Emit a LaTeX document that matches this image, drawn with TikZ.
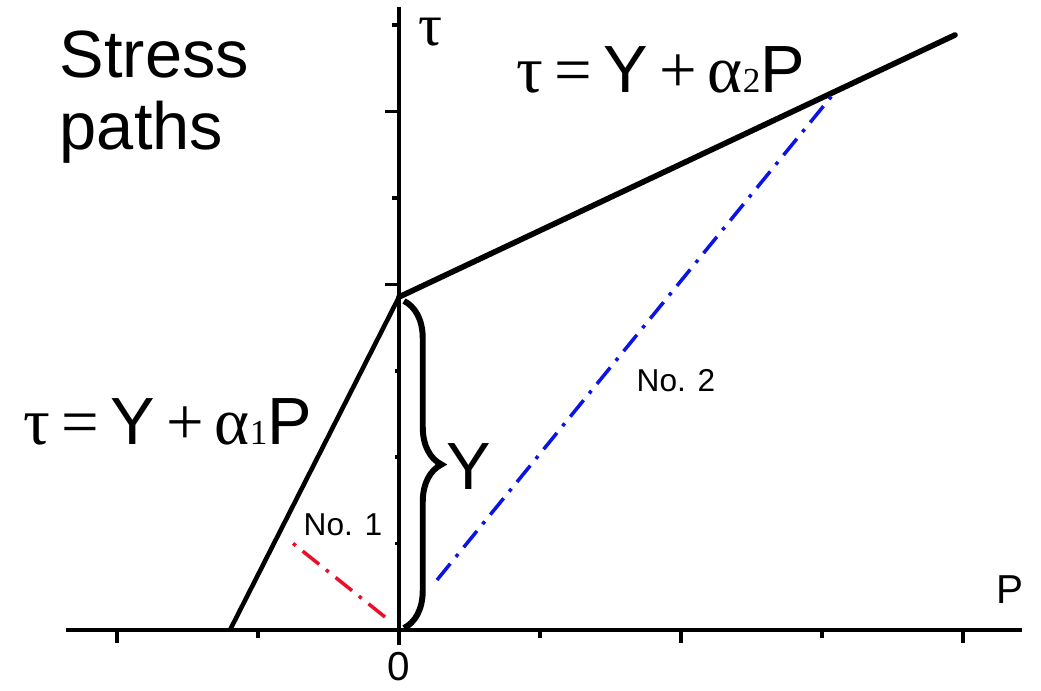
\documentclass[tikz,border=0pt]{standalone}
\usepackage{fontspec}
\setmainfont{Liberation Sans}
\newfontfamily\greekfont{Liberation Serif}
\usetikzlibrary{decorations.pathreplacing}
\definecolor{cred}{HTML}{E8102A}
\definecolor{cblue}{HTML}{0A14E6}
\tikzset{
  every picture/.style={line width=2pt},
  axis/.style={black, line width=2pt},
  yieldline/.style={black, line width=3.2pt},
  stresspath/.style={#1, line width=2pt, dash pattern=on 12pt off 5pt on 2pt off 5pt},
  bracey/.style={decorate, decoration={brace, amplitude=0.75cm}, line width=3.4pt},
  biglab/.style={font=\fontsize{38}{41}\selectfont, inner sep=0pt},
  midlab/.style={font=\fontsize{23}{25}\selectfont, inner sep=0pt},
  smalllab/.style={font=\fontsize{18}{20}\selectfont, inner sep=0pt},
}
\newcommand{\gk}[1]{{\greekfont #1}}
\newcommand{\subnum}[1]{{\greekfont\fontsize{20}{20}\selectfont #1}}

\begin{document}
\begin{tikzpicture}
  \useasboundingbox (-7.98,-1.2) rectangle (12.84,12.6);
  % axes
  \coordinate (O) at (0,0);
  \coordinate (xl) at (-6.66,0);
  \coordinate (xr) at (12.46,0);
  \coordinate (yb) at (0,-0.3);
  \coordinate (yt) at (0,12.46);
  \draw[axis] (xl) -- (xr);
  \draw[axis] (yb) -- (yt);
  \foreach \x/\l in {-5.64/0.26, -2.82/0.16, 0/0.26, 2.82/0.16, 5.64/0.26, 8.46/0.16, 11.28/0.26}
    \draw[axis] (\x,0) -- (\x,-\l);
  \foreach \k/\l in {1/0.08, 2/0.08, 3/0.08, 4/0.28, 5/0.14, 6/0.28, 7/0.14}
    \draw[axis] (0,\k*1.728) -- ++(-\l,0);
  \node[midlab] (zero) at (0,-0.74) {0};
  \node[midlab] (Plab) at (12.22,0.8) {P};
  \node[font=\greekfont\fontsize{34}{36}\selectfont, inner sep=0pt] (taulab) at (0.64,11.95) {τ};

  % yield lines
  \coordinate (Yint) at (0,6.66);
  \coordinate (Pneg) at (-3.38,0);
  \coordinate (Yend) at (11.12,11.9);
  \draw[yieldline, line width=2.6pt] (Pneg) -- (Yint);
  \draw[yieldline, line cap=round] (Yint) -- (Yend);

  % stress paths
  \coordinate (s1a) at (-0.28,0.26);
  \coordinate (s1b) at (-2.18,1.78);
  \coordinate (s2a) at (0.76,1.0);
  \coordinate (s2b) at (8.72,10.76);
  \draw[stresspath=cred] (s1a) -- (s1b);
  \draw[stresspath=cblue] (s2a) -- (s2b);
  \node[smalllab] (no1) at (-1.12,2.1) {No. 1};
  \node[smalllab] (no2) at (5.54,4.98) {No. 2};

  % cohesion brace
  \coordinate (bt) at (0.1,6.58);
  \coordinate (bb) at (0.1,0.04);
  \draw[bracey] (bt) -- (bb);
  \node[biglab, anchor=base west] (Ylab) at (0.92,2.8) {Y};

  % labels
  \node[biglab, anchor=base west, align=left] (title) at (-6.82,9.6) {Stress\\paths};
  \node[biglab, anchor=base west] (eq2) at (2.32,10.74) {\gk{τ\,=\,}Y\gk{\,+\,α}\subnum{2}P};
  \node[biglab, anchor=base west] (eq1) at (-7.54,3.7) {\gk{τ\,=\,}Y\gk{\,+\,α}\subnum{1}P};
\end{tikzpicture}
\end{document}
